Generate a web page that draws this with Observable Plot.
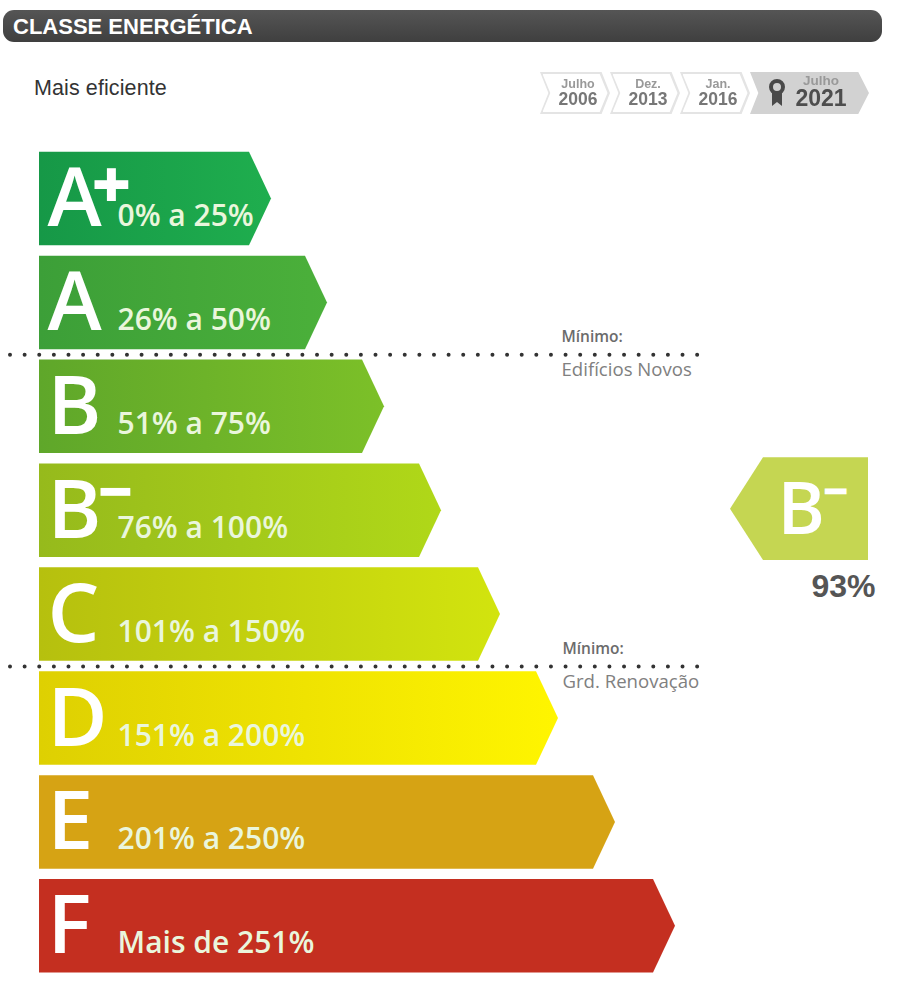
<!DOCTYPE html>
<html><head><meta charset="utf-8">
<script src="https://cdn.jsdelivr.net/npm/d3@7"></script>
<script src="https://cdn.jsdelivr.net/npm/@observablehq/plot@0.6"></script>
<style>
html,body{margin:0;padding:0;background:#fff}
#wrap{position:relative;width:900px;height:1003px;overflow:hidden}
#wrap svg{display:block}
#head{position:absolute;left:3px;top:10px;width:879px;height:32px;background:linear-gradient(#555,#3f3f3f);border-radius:11px;color:#fff;font:bold 22px "Liberation Sans",sans-serif;line-height:33px;text-indent:10px}
#eff{position:absolute;left:34px;top:76px;font:21.5px "Liberation Sans",sans-serif;color:#333;letter-spacing:.1px}
.chev{position:absolute;top:72px;height:42px;width:70px;background:#e4e4e4;clip-path:polygon(0 0,88% 0,100% 50%,88% 100%,0 100%,12% 50%)}
.chev i{position:absolute;inset:2px 2.5px;background:#fff;clip-path:polygon(0 0,88% 0,100% 50%,88% 100%,0 100%,12% 50%)}
.lab{position:absolute;top:79px;width:70px;text-align:center;font:bold 12.5px/11px "Liberation Sans",sans-serif;color:#999;filter:blur(.4px)}
.lab b{display:block;font-size:17.5px;line-height:19px;color:#777}
#cur{position:absolute;left:750px;top:72px;width:119px;height:42px;background:#d2d2d2;clip-path:polygon(0 0,91% 0,100% 50%,91% 100%,0 100%,7% 50%)}
#curlab{position:absolute;left:795px;top:75px;width:52px;text-align:center;font:bold 13.5px/12px "Liberation Sans",sans-serif;color:#999;filter:blur(.3px)}
#curlab b{display:block;font-size:23px;line-height:23px;color:#4d4d4d}
#rib{position:absolute;left:768px;top:79px}
</style></head><body>
<div id="wrap"></div>
<script>
const classes = ["A+","A","B","B-","C","D","E","F"];
const ranges = ["0% a 25%","26% a 50%","51% a 75%","76% a 100%","101% a 150%","151% a 200%","201% a 250%","Mais de 251%"];
const lengths = [232,288,345,402,461,519,576,636];
const fromColors = ["#169847","#3c9f38","#5fa72a","#96ba1c","#b6c00e","#ded002","#d6a314","#c42f20"];
const toColors   = ["#1fae4e","#4bb03a","#7cc028","#b0d818","#d2e40e","#fff500","#d6a314","#c42f20"];
const thresholds = [{row:1.5,top:"Mínimo:",bottom:"Edifícios Novos",dx:522},{row:4.5,top:"Mínimo:",bottom:"Grd. Renovação",dx:523}];
const currentClass = "B-";
const currentValue = "93%";
const stamps = [["Julho","2006"],["Dez.","2013"],["Jan.","2016"]];

const tipDepth = 22, half = 0.45;
const marks = [];
classes.forEach((c,i)=>{
  const L = lengths[i];
  marks.push(Plot.areaX([
    {y:i-half,x2:L-tipDepth},{y:i,x2:L},{y:i+half,x2:L-tipDepth}
  ],{x1:()=>0,x2:"x2",y:"y",fill:`url(#g${i})`,curve:"linear"}));
});
const font = "Open Sans";
const letters = classes.map((c,i)=>({c:c[0],sup:c[1]||null,row:i,range:ranges[i]}));
marks.push(Plot.text(letters,{x:()=>8,y:"row",text:"c",fill:"#fff",fontFamily:font,fontWeight:650,fontSize:82,textAnchor:"start",lineAnchor:"bottom",dy:27}));
marks.push(Plot.text(letters.filter(d=>d.sup==="+"),{x:()=>52,y:"row",text:()=>"+",fill:"#fff",fontFamily:font,fontWeight:800,fontSize:68,textAnchor:"start",lineAnchor:"bottom",dy:9}));
marks.push(Plot.text(letters.filter(d=>d.sup==="-"),{x:()=>59,y:"row",text:()=>"−",fill:"#fff",fontFamily:font,fontWeight:800,fontSize:60,textAnchor:"start",lineAnchor:"bottom",dy:2}));
marks.push(Plot.text(letters,{x:()=>78,y:"row",text:"range",fill:"#eaf6dc",fontFamily:font,fontWeight:600,fontSize:30,textAnchor:"start",lineAnchor:"bottom",dy:27}));
// dotted minimum lines
marks.push(Plot.ruleY(thresholds,{y:"row",x1:()=>-29,x2:()=>660,stroke:"#333",strokeWidth:4,strokeLinecap:"round",strokeDasharray:"0 14.62"}));
marks.push(Plot.text(thresholds,{x:"dx",y:"row",text:"top",fill:"#6b6b6b",fontFamily:font,fontWeight:600,fontSize:15.5,textAnchor:"start",lineAnchor:"bottom",dy:-13}));
marks.push(Plot.text(thresholds,{x:"dx",y:"row",text:"bottom",fill:"#808080",fontFamily:font,fontSize:18.6,textAnchor:"start",lineAnchor:"bottom",dy:21}));
// current class tag
const ci = classes.indexOf(currentClass) - 0.015;
marks.push(Plot.areaX([
  {y:ci-0.495,x1:724},{y:ci,x1:691},{y:ci+0.495,x1:724}
],{x1:"x1",x2:()=>829,y:"y",fill:"#c5d652",curve:"linear"}));
marks.push(Plot.text([currentClass[0]],{x:()=>738,y:()=>ci,text:d=>d,fill:"#fff",fontFamily:font,fontWeight:650,fontSize:72,textAnchor:"start",lineAnchor:"bottom",dy:25}));
marks.push(Plot.text(["−"],{x:()=>784,y:()=>ci,text:d=>d,fill:"#fff",fontFamily:font,fontWeight:800,fontSize:44,textAnchor:"start",lineAnchor:"bottom",dy:-2}));
marks.push(Plot.text([currentValue],{x:()=>836,y:()=>ci,text:d=>d,fill:"#555",fontFamily:"Liberation Sans",fontWeight:700,fontSize:32,textAnchor:"end",lineAnchor:"bottom",dy:88}));

const chart = Plot.plot({
  width:900,height:1003,margin:0,
  x:{domain:[-39,861],range:[0,900],axis:null},
  y:{domain:[-198.5/103.9,(1003-198.5)/103.9],range:[0,1003],axis:null},
  marks
});
const defs = d3.select(chart).insert("defs",":first-child");
classes.forEach((c,i)=>{
  const g = defs.append("linearGradient").attr("id",`g${i}`);
  g.append("stop").attr("offset","0%").attr("stop-color",fromColors[i]);
  g.append("stop").attr("offset","100%").attr("stop-color",toColors[i]);
});
const wrap = document.getElementById("wrap");
wrap.appendChild(chart);
const add = (html)=>wrap.insertAdjacentHTML("beforeend",html);
add(`<div id="head">CLASSE ENERGÉTICA</div><div id="eff">Mais eficiente</div>`);
stamps.forEach((s,i)=>{
  const left = 540+i*70;
  add(`<div class="chev" style="left:${left}px"><i></i></div><div class="lab" style="left:${left+3}px">${s[0]}<b>${s[1]}</b></div>`);
});
add(`<div id="cur"></div><svg id="rib" width="18" height="28" viewBox="0 0 18 28"><circle cx="9" cy="8" r="6" fill="none" stroke="#4a4a4a" stroke-width="4"/><path d="M4 13 L4 27 L9 23 L14 27 L14 13Z" fill="#4a4a4a"/></svg><div id="curlab">Julho<b>2021</b></div>`);
</script>
</body></html>
